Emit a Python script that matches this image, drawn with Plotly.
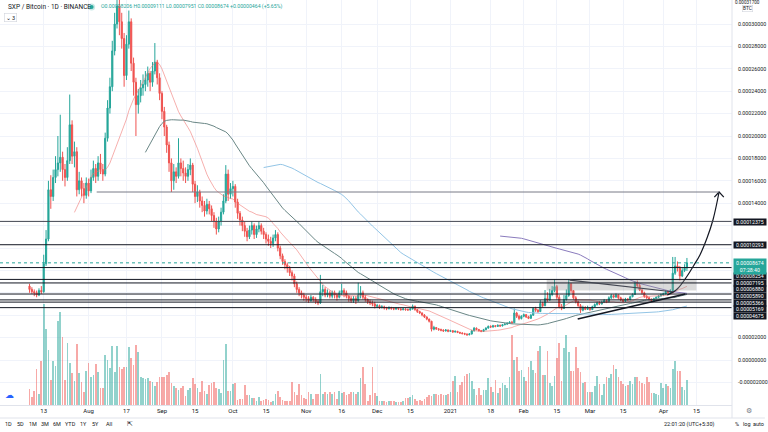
import pandas as pd
import plotly.graph_objects as go

# ---------------- data (prices in micro-BTC, 1e-6 BTC) ----------------
START = "2020-07-07"
ANCHOR = "2020-08-01"
UNIT = 1e-6
first_open = 66.0

close_u = [
    63, 61, 60, 58, 62, 61, 86, 108, 152, 146,
    163, 170, 176, 181, 170, 163, 178, 210, 182, 186,
    152, 160, 153, 147, 158, 151, 163, 171, 164, 176,
    170, 166, 198, 225, 244, 276, 300, 316, 302, 287,
    254, 282, 302, 265, 248, 228, 236, 243, 246, 250,
    256, 248, 258, 266, 252, 238, 222, 208, 192, 176,
    160, 168, 164, 176, 171, 167, 164, 170, 174, 157,
    146, 150, 142, 138, 133, 139, 135, 129, 124, 117,
    124, 132, 142, 166, 148, 153, 155, 141, 131, 125,
    120, 115, 110, 116, 120, 112, 117, 120, 115, 112,
    108, 106, 104, 109, 112, 100, 93, 88, 85, 82,
    78, 75, 68, 63, 60, 58, 56, 55, 53, 56,
    54, 52, 51, 61, 63, 58, 60, 57, 60, 58,
    56, 60, 62, 60, 57, 55, 53, 55, 53, 58,
    60, 56, 54, 52, 51, 50, 48, 48.5, 47, 47.5,
    46.5, 46, 46.6, 46, 45.5, 46.2, 45.6, 45, 45.6, 45,
    44.8, 45.6, 48, 45, 43.2, 42, 40.2, 38.4, 36.5, 34.6,
    27.5, 29, 27.8, 27.2, 26.6, 26, 26.8, 25.6, 26.2, 25,
    25.6, 24.6, 24.1, 23.6, 23.1, 22.6, 23.2, 26, 28.4, 27.2,
    26.2, 25.6, 27, 28.5, 30, 29.4, 30.6, 30, 31, 30.4,
    31.5, 32, 32.8, 33.8, 33.2, 42, 39, 37, 39, 40.5,
    38.5, 37.2, 40, 46, 44.5, 43.2, 50.5, 48.5, 55, 53.5,
    58.5, 62, 65.5, 56, 47.5, 46, 54, 57.5, 68, 62,
    55.5, 52, 48.5, 44.5, 47, 45.2, 46.8, 45, 47.5, 49.5,
    50.8, 50, 51.6, 53, 52, 55.5, 57.5, 56.2, 58, 55.5,
    53.5, 52.5, 54.5, 53.8, 56.5, 58.5, 68.5, 66.5, 62.5, 60,
    56.8, 55.6, 54.2, 53, 54.8, 56, 57.2, 58.2, 59, 61,
    60.2, 62, 77.5, 84, 82.5, 75, 79.8, 82.06, 86.74,
]

high_u = [
    68, 65, 63, 62, 64, 66, 94, 116, 160, 165,
    170, 182, 200, 219, 186, 175, 190, 237, 214, 195,
    190, 168, 163, 158, 163, 162, 170, 178, 175, 182,
    184, 175, 203, 232, 252, 285, 310, 330, 325, 310,
    292, 290, 312, 305, 270, 252, 242, 250, 255, 258,
    262, 258, 266, 283, 268, 256, 240, 226, 210, 195,
    180, 175, 172, 198, 180, 178, 172, 175, 180, 176,
    160, 156, 152, 146, 142, 144, 142, 138, 132, 127,
    128, 136, 148, 174, 170, 158, 160, 157, 144, 133,
    128, 124, 118, 120, 124, 122, 120, 124, 122, 118,
    114, 112, 110, 112, 116, 114, 102, 95, 90, 87,
    84, 80, 77, 70, 65, 62, 60, 58, 57, 58,
    57, 56, 54, 76, 67, 65, 63, 62, 62, 62,
    60, 62, 68, 64, 62, 58, 57, 57, 57, 69,
    66, 62, 58, 55, 54, 53, 52, 50, 49.5, 49,
    48.5, 47.5, 48, 47.5, 47, 47, 46.8, 46.4, 46.5, 46.2,
    46, 46.5, 49.5, 48.5, 45.5, 44, 42.5, 41, 39, 37,
    35, 30.5, 29.5, 28.5, 28, 27.5, 27.6, 27.2, 27, 26.6,
    26.4, 26, 25.2, 24.8, 24.3, 23.8, 24, 27, 29.5, 29,
    27.8, 26.8, 27.8, 29.2, 30.8, 31, 31.4, 31.2, 31.8, 31.6,
    32.2, 33, 33.6, 34.6, 35, 46, 43, 40.5, 40, 41.5,
    41, 39.5, 41, 47, 47.5, 45.5, 53.5, 52, 62.5, 60.5,
    63.5, 66, 72, 67, 58, 50, 58, 63, 72, 68.5,
    62, 57, 53, 50, 48.5, 48, 48.5, 47.2, 48.5, 50.5,
    52, 52.5, 53, 54.5, 54, 56.8, 59, 58.5, 59.5, 58.5,
    56.5, 55, 55.5, 55.2, 57.5, 59.5, 70.5, 71, 68, 63.5,
    61, 58, 56.5, 55, 55.6, 56.8, 58, 59.2, 60.2, 62.4,
    62, 63.2, 92, 92, 88, 84, 82, 85.5, 91.11,
]

low_u = [
    60, 59, 57, 56, 57, 59, 60, 84, 106, 135,
    142, 158, 164, 168, 160, 155, 160, 175, 175, 172,
    146, 148, 146, 140, 144, 146, 149, 160, 158, 160,
    166, 160, 164, 195, 220, 240, 272, 296, 290, 278,
    244, 250, 278, 258, 236, 200, 220, 230, 236, 240,
    244, 240, 244, 255, 246, 232, 215, 200, 185, 168,
    150, 152, 158, 162, 164, 160, 158, 160, 165, 150,
    140, 141, 136, 132, 128, 130, 130, 124, 118, 112,
    114, 120, 130, 140, 142, 144, 146, 136, 126, 120,
    115, 110, 106, 108, 112, 108, 109, 114, 112, 108,
    104, 102, 100, 101, 106, 97, 90, 85, 81, 78,
    75, 71, 65, 60, 57, 55, 53, 52, 51, 52,
    52, 50, 49, 50, 57, 56, 56, 55, 55, 55,
    53, 55, 58, 56, 55, 52, 51, 51, 50, 52,
    55, 54, 52, 50, 49, 48, 46, 46.5, 45.5, 46,
    45, 44.5, 45, 44.8, 44.5, 44.8, 44.6, 44, 44.3, 44,
    43.8, 44, 45, 44, 42, 41, 39, 37.5, 35.5, 33.5,
    25.5, 26.5, 26.8, 26, 25.6, 25, 25.4, 24.8, 25, 24.2,
    24.5, 24, 23.2, 22.8, 22.2, 21.5, 22, 22.8, 25.5, 26.5,
    25.5, 24.8, 25.2, 26.6, 28, 28.6, 29, 29.2, 29.5, 29.6,
    30, 31, 31.5, 32.2, 32.4, 33, 37.5, 35.5, 36.2, 38.2,
    37.5, 36.5, 36.8, 39.5, 43, 42, 43, 47, 48, 52,
    53, 57, 60.5, 54, 46, 44.5, 45.5, 53, 56.5, 60,
    54, 50.5, 47.5, 42, 43.5, 44.5, 44.8, 44, 44.6, 46.8,
    48.6, 49, 49.5, 51, 50.8, 51.5, 54.5, 55, 55.5, 54,
    52.5, 51.5, 52, 52.8, 53.4, 56, 58, 64.5, 61.5, 58.5,
    55.5, 54.5, 53, 51.8, 52.6, 54.2, 55.4, 56.6, 57.4, 58.6,
    59.4, 59.8, 61.5, 76, 79, 71, 74, 78.5, 79.51,
]

volume = [
    16, 8, 14, 36, 11, 44, 100, 75, 54, 25,
    44, 39, 83, 92, 67, 25, 61, 42, 32, 24,
    60, 32, 23, 13, 34, 42, 28, 30, 41, 33,
    17, 17, 50, 45, 37, 58, 33, 58, 38, 36,
    38, 38, 57, 47, 40, 59, 52, 28, 27, 26,
    27, 24, 23, 19, 23, 28, 28, 28, 30,
    33, 22, 19, 17, 15, 17, 19, 9, 15, 17,
    27, 21, 17, 13, 24, 14, 11, 20, 22, 23,
    17, 16, 12, 45, 60, 14, 14, 21, 22, 5,
    6, 6, 20, 10, 10, 7, 7, 4, 8, 4,
    5, 6, 5, 3, 4, 11, 14, 8, 5,
    4, 4, 4, 23, 13, 10, 21, 10, 7, 6,
    13, 11, 6, 11, 11, 31, 11, 13, 11, 13,
    11, 13, 6, 14, 12, 13, 10, 11, 13, 13,
    11, 13, 27,
    38, 21, 4, 10, 38, 12, 9, 4, 4, 4,
    3, 4, 4, 4, 3, 3, 3, 4, 7,
    7, 8, 10, 6, 4, 5, 4, 6, 8, 10,
    9, 11, 11, 10, 11, 10, 10, 11, 13, 24,
    29, 13, 20, 23, 29, 31, 32, 24, 16, 10,
    17, 10, 15, 15, 27, 18, 13, 25, 12, 17,
    22, 20, 17, 28, 69, 45, 48, 34, 35, 28,
    24, 38, 44, 35, 32, 53, 58, 30, 30, 53,
    22, 19, 29, 47, 61, 24, 56, 69, 52, 34,
    34, 57, 37, 33, 22, 23, 13, 13, 13, 19,
    29, 21, 10, 21, 28, 27, 31, 40, 36, 28,
    24, 21, 19, 20, 24, 21, 28, 28, 24, 22,
    21, 28, 23, 12, 12, 11, 10, 22, 17, 21,
    19, 17, 36, 44, 34, 34, 18, 15, 25,
]

# horizontal drawings (micro-BTC) and their price-scale tags
level_values = [123.75, 102.93, 82.54, 71.95, 68.80, 58.90, 53.66, 51.69, 46.75]
level_labels = ["0.00012375", "0.00010293", "0.00008254", "0.00007195", "0.00006880",
                "0.00005890", "0.00005366", "0.00005169", "0.00004675"]
target_level = 150.0
last_price = 86.74
countdown = "07:28:40"
ohlc_text = "O0.00008206 H0.00009111 L0.00007951 C0.00008674 +0.00000464 (+5.65%)"

# drawings in (days since ANCHOR, micro-BTC)
proj_days = [244.7, 248.9, 253.1, 256.0, 258.5, 261.5, 264.0, 266.6]
proj_price = [58.0, 63.4, 75.0, 84.8, 93.8, 108.9, 125.0, 150.0]
arrowhead_days = [264.6, 266.6, 268.6]
arrowhead_price = [145.5, 150.0, 145.5]
res_line_days = [203.4, 247.6]
res_line_price = [71.4, 60.7]
sup_line_days = [206.8, 252.3]
sup_line_price = [36.6, 58.9]
target_start_day = 3.4
box_days = [193.7, 257.0]
box_price = [62.0, 72.0]

x_tick_dates = ["2020-07-13", "2020-08-01", "2020-08-17", "2020-09-01", "2020-09-15",
                "2020-10-01", "2020-10-15", "2020-11-01", "2020-11-16", "2020-12-01",
                "2020-12-15", "2021-01-01", "2021-01-18", "2021-02-01", "2021-02-15",
                "2021-03-01", "2021-03-15", "2021-04-01", "2021-04-15"]
x_tick_text = ["13", "Aug", "17", "Sep", "15", "Oct", "15", "Nov", "16", "Dec", "15",
               "2021", "18", "Feb", "15", "Mar", "15", "Apr", "15"]
price_tick_u = [-20, 0, 20, 40, 60, 80, 100, 120, 140, 160, 180, 200, 220, 240, 260, 280, 300]
hidden_ticks_u = [40, 60, 80, 100, 120]
ma_lengths = [20, 50, 100, 200]
ma_colors = ["rgba(239,110,105,0.55)", "#6a8786", "#93c5e6", "#8a7bbd"]

# ---------------- derived ----------------
dates = pd.date_range(START, periods=len(close_u), freq="D")
anchor = pd.Timestamp(ANCHOR)
open_u = [first_open] + close_u[:-1]
O = [v * UNIT for v in open_u]
H = [v * UNIT for v in high_u]
L = [v * UNIT for v in low_u]
C = [v * UNIT for v in close_u]
up = [c >= o for o, c in zip(O, C)]
vol_colors = ["rgba(38,166,154,0.5)" if u else "rgba(239,83,80,0.5)" for u in up]
closes = pd.Series(C, index=dates)


def day(d):
    return anchor + pd.Timedelta(days=d)


W, Hgt = 768, 432
ML, MR, MT, MB = 0, 33, 0, 27
PW, PH = W - ML - MR, Hgt - MT - MB


def px(xp, yp):
    return (xp - ML) / PW, 1 - (yp - MT) / PH


fig = go.Figure()

fig.add_trace(go.Bar(x=dates, y=volume, marker=dict(color=vol_colors, line=dict(width=0)),
                     width=0.72 * 86400000, yaxis="y", hoverinfo="skip", showlegend=False))

for n, col in zip(ma_lengths, ma_colors):
    ma = closes.rolling(n).mean()
    fig.add_trace(go.Scatter(x=dates, y=ma.values, mode="lines", line=dict(color=col, width=1),
                             yaxis="y2", hoverinfo="skip", showlegend=False))

fig.add_trace(go.Candlestick(
    x=dates, open=O, high=H, low=L, close=C, yaxis="y2",
    increasing=dict(line=dict(color="#26a69a", width=1), fillcolor="#26a69a"),
    decreasing=dict(line=dict(color="#ef5350", width=1), fillcolor="#ef5350"),
    whiskerwidth=0, hoverinfo="skip", showlegend=False))

# projection curve + arrowhead
fig.add_trace(go.Scatter(x=[day(d) for d in proj_days], y=[p * UNIT for p in proj_price],
                         mode="lines", line=dict(color="#131722", width=1.2, shape="spline"),
                         yaxis="y2", hoverinfo="skip", showlegend=False))
fig.add_trace(go.Scatter(x=[day(d) for d in arrowhead_days], y=[p * UNIT for p in arrowhead_price],
                         mode="lines", line=dict(color="#131722", width=1.2),
                         yaxis="y2", hoverinfo="skip", showlegend=False))

shapes = []
# grey box
shapes.append(dict(type="rect", xref="x", yref="y2", x0=day(box_days[0]), x1=day(box_days[1]),
                   y0=box_price[0] * UNIT, y1=box_price[1] * UNIT,
                   fillcolor="rgba(150,150,150,0.35)", line=dict(width=0), layer="above"))
# horizontal levels
for i, v in enumerate(level_values):
    colr = "#434651" if i == 0 else "#131722"
    shapes.append(dict(type="line", xref="paper", yref="y2", x0=0, x1=1, y0=v * UNIT, y1=v * UNIT,
                       line=dict(color=colr, width=1)))
shapes.append(dict(type="line", xref="x", yref="y2", x0=day(target_start_day), x1=day(proj_days[-1]),
                   y0=target_level * UNIT, y1=target_level * UNIT, line=dict(color="#787b86", width=1)))
shapes.append(dict(type="line", xref="paper", yref="y2", x0=0, x1=1, y0=last_price * UNIT,
                   y1=last_price * UNIT, line=dict(color="#26a69a", width=1, dash="dot")))
# trend lines
shapes.append(dict(type="line", xref="x", yref="y2", x0=day(res_line_days[0]), x1=day(res_line_days[1]),
                   y0=res_line_price[0] * UNIT, y1=res_line_price[1] * UNIT,
                   line=dict(color="#434651", width=1.2)))
shapes.append(dict(type="line", xref="x", yref="y2", x0=day(sup_line_days[0]), x1=day(sup_line_days[1]),
                   y0=sup_line_price[0] * UNIT, y1=sup_line_price[1] * UNIT,
                   line=dict(color="#131722", width=1.6)))
# frame separators
x0p, _ = px(0, 0)
x1p, _ = px(W, 0)
_, ysep = px(0, 418)
shapes.append(dict(type="line", xref="paper", yref="paper", x0=x0p, x1=x1p, y0=ysep, y1=ysep,
                   line=dict(color="#e0e3eb", width=1)))
shapes.append(dict(type="line", xref="paper", yref="paper", x0=1, x1=1, y0=ysep, y1=1,
                   line=dict(color="#e0e3eb", width=1)))
# status dot
cx, cy = px(92, 7)
rx1, ry1 = 3.5 / PW, 3.5 / PH
rx2, ry2 = 2.0 / PW, 2.0 / PH
shapes.append(dict(type="circle", xref="paper", yref="paper", x0=cx - rx1, x1=cx + rx1, y0=cy - ry1,
                   y1=cy + ry1, fillcolor="rgba(38,166,154,0.25)", line=dict(width=0)))
shapes.append(dict(type="circle", xref="paper", yref="paper", x0=cx - rx2, x1=cx + rx2, y0=cy - ry2,
                   y1=cy + ry2, fillcolor="#26a69a", line=dict(width=0)))

ann = []
FONT = "Roboto, Arial, sans-serif"


def text(xp, yp, s, size=6, color="#131722", xanchor="left", **kw):
    x, y = px(xp, yp)
    ann.append(dict(x=x, y=y, xref="paper", yref="paper", text=s, showarrow=False,
                    xanchor=xanchor, yanchor="middle", font=dict(size=size, color=color, family=FONT), **kw))


text(6, 7, "SXP / Bitcoin · 1D · BINANCE", size=6.5, color="#131722")
text(99, 7, ohlc_text, size=5.2, color="#26a69a")
text(4, 18, "⌄ 3", size=5.5, color="#131722", bordercolor="#d1d4dc", borderwidth=0.6, borderpad=1,
     bgcolor="white")

# price tags (stacked like the price scale does)
tag_px = [221.5, 244.6, 276.3, 282.8, 289.3, 296.0, 302.6, 309.1, 315.8]
for lab, yp in zip(level_labels, tag_px):
    x, y = px(736, yp)
    ann.append(dict(x=x, y=y, xref="paper", yref="paper", text=lab, showarrow=False, xanchor="left",
                    yanchor="middle", width=31, height=5.6, bgcolor="#131722", borderpad=0.4,
                    font=dict(size=5.2, color="white", family=FONT)))
x, y = px(736, 266.5)
ann.append(dict(x=x, y=y, xref="paper", yref="paper",
                text="0.%08d<br>%s" % (round(last_price * 100), countdown), showarrow=False,
                xanchor="left", yanchor="middle", width=31, height=14, bgcolor="#26a69a", borderpad=0.4,
                font=dict(size=5.2, color="white", family=FONT)))
text(751, 2.6, "0.00031700", size=4.6, color="#131722", xanchor="center")
text(751, 8.6, "BTC", size=4.8, color="#131722", xanchor="center", bordercolor="#d1d4dc",
     borderwidth=0.6, borderpad=0.5, bgcolor="white")
text(752, 411, "⚙", size=7, color="#787b86", xanchor="center")
text(10, 395, "☁", size=9, color="#2962ff", xanchor="center")

# bottom toolbar
for lab, xp in zip(["1D", "5D", "1M", "3M", "6M", "YTD", "1Y", "5Y", "All"],
                   [9, 21, 33, 45, 57, 71, 84, 96, 109]):
    text(xp, 424.5, lab, size=5.5, color="#131722", xanchor="center")
text(131, 424.5, "⇱", size=6.5, color="#131722", xanchor="center")
text(692, 424.5, "22:01:20 (UTC+5:30)", size=5.5, color="#131722", xanchor="center")
text(740, 424.5, "%", size=5.5, color="#131722", xanchor="center")
text(750.5, 424.5, "log", size=5.5, color="#131722", xanchor="center")
text(761.5, 424.5, "auto", size=5.5, color="#131722", xanchor="center")

# axis geometry: 2.3745 px per day, Aug 1 at x=89
ppd = 2.3745
x_lo = day(-(89 - ML) / ppd)
x_hi = day((ML + PW - 89) / ppd)
# price mapping: 0 BTC at y=360 px, 22.4 px per 0.00002
y_lo = -(MT + PH - 360) / 22.4 * 20 * UNIT
y_hi = (360 - MT) / 22.4 * 20 * UNIT
ptext = ["" if v in hidden_ticks_u else "%.8f" % (v * UNIT) for v in price_tick_u]

fig.update_layout(
    width=W, height=Hgt, margin=dict(l=ML, r=MR, t=MT, b=MB, pad=0),
    paper_bgcolor="white", plot_bgcolor="white", showlegend=False, bargap=0,
    font=dict(family=FONT, size=6, color="#131722"),
    xaxis=dict(type="date", range=[x_lo, x_hi], tickvals=x_tick_dates, ticktext=x_tick_text,
               showgrid=True, gridcolor="#f0f3fa", gridwidth=1, showline=True, linecolor="#e0e3eb",
               ticks="", tickfont=dict(size=6, color="#131722"), rangeslider=dict(visible=False),
               zeroline=False, fixedrange=True),
    yaxis=dict(range=[0, 401], visible=False, showgrid=False, fixedrange=True),
    yaxis2=dict(overlaying="y", side="right", range=[y_lo, y_hi], tickvals=[v * UNIT for v in price_tick_u],
                ticktext=ptext, showgrid=True, gridcolor="#f0f3fa", zeroline=False, showline=False,
                ticks="", tickfont=dict(size=5.3, color="#131722"), ticklabelstandoff=5, fixedrange=True),
    shapes=shapes, annotations=ann,
)

fig.write_html("out.html", config={"displayModeBar": False})
